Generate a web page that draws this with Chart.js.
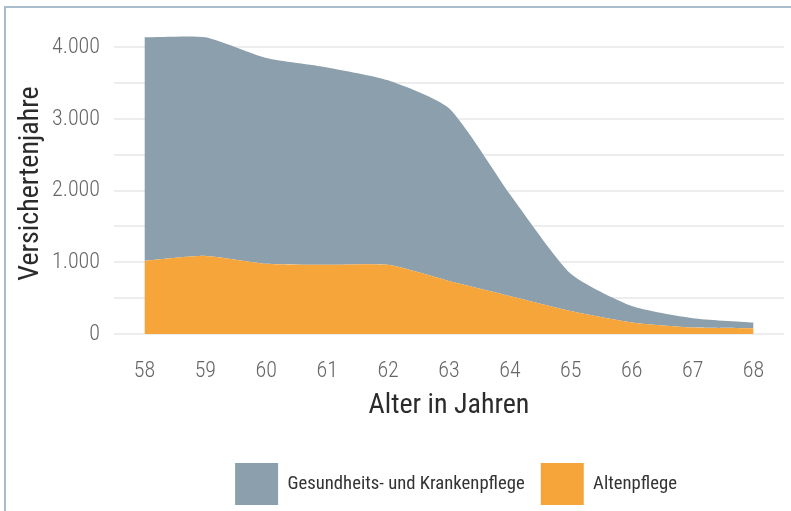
<!DOCTYPE html>
<html lang="de">
<head>
<meta charset="utf-8">
<title>Versichertenjahre nach Alter</title>
<script src="https://cdn.jsdelivr.net/npm/chart.js@4.4.1/dist/chart.umd.min.js"></script>
<style>
  html, body { margin: 0; padding: 0; background: #fff; }
  #rahmen { position: relative; width: 791px; height: 511px; overflow: hidden; }
  #linie { position: absolute; left: 4px; top: 6px; right: 0; bottom: 0;
           border-top: 2px solid #a9bccd; border-left: 2px solid #a9bccd; pointer-events: none; }
  canvas { position: absolute; left: 0; top: 0; }
</style>
</head>
<body>
<div id="rahmen">
  <canvas id="grafik" width="791" height="511"></canvas>
  <div id="linie"></div>
</div>
<script>
const alter = ["58", "59", "60", "61", "62", "63", "64", "65", "66", "67", "68"];
const altenpflege = [1020, 1090, 980, 965, 965, 740, 530, 320, 160, 90, 80];
const krankenpflege = [3120, 3050, 2870, 2755, 2575, 2410, 1420, 520, 230, 130, 80];
// Hilfslinien alle 500, beschriftet nur die vollen Tausender
const yLinien = [0, 500, 1000, 1500, 2000, 2500, 3000, 3500, 4000];
const yBeschriftet = [0, 1000, 2000, 3000, 4000];
const yLabels = ["0", "1.000", "2.000", "3.000", "4.000"];

const schrift = '"Roboto Condensed", "DejaVu Sans Condensed", sans-serif';

// Legende unter der Zeichenfläche zentrieren, nicht unter der ganzen Leinwand
const legendeVerschieben = {
    id: "legendeVerschieben",
    afterLayout(chart) {
        const lg = chart.legend;
        const dx = 456 - (lg.left + lg.right) / 2;
        lg.left += dx;
        lg.right += dx;
        const dy = 447 - lg.top;
        lg.top += dy;
        lg.bottom += dy;
    }
};

const ctx = document.getElementById("grafik").getContext("2d");
new Chart(ctx, {
    type: "line",
    data: {
        labels: alter,
        datasets: [
            {
                label: "Altenpflege",
                data: altenpflege,
                backgroundColor: "#f6a53b",
                borderColor: "#f6a53b",
                borderWidth: 0,
                fill: "origin",
                pointRadius: 0,
                tension: 0.2
            },
            {
                label: "Gesundheits- und Krankenpflege",
                data: krankenpflege,
                backgroundColor: "#8b9fad",
                borderColor: "#8b9fad",
                borderWidth: 0,
                fill: "-1",
                pointRadius: 0,
                tension: 0.2
            }
        ]
    },
    options: {
        responsive: false,
        animation: false,
        layout: { padding: { left: 10, right: 7, top: 33, bottom: 0 } },
        plugins: {
            tooltip: { enabled: false },
            legend: {
                position: "bottom",
                reverse: true,
                labels: {
                    boxWidth: 43,
                    boxHeight: 42,
                    padding: 16,
                    color: "#333",
                    font: { family: schrift, size: 18.7 }
                }
            }
        },
        scales: {
            x: {
                offset: true,
                afterFit: s => { s.height = 109; },
                grid: { display: false, drawTicks: false },
                border: { display: false },
                ticks: { color: "#666", padding: 24, font: { family: schrift, size: 22, weight: 300 } },
                title: {
                    display: true,
                    text: "Alter in Jahren",
                    color: "#2b2b2b",
                    padding: { top: 0, bottom: 20 },
                    font: { family: schrift, size: 28 }
                }
            },
            y: {
                stacked: true,
                min: 0,
                max: 4200,
                afterFit: s => { s.width = 104; },
                afterBuildTicks: s => { s.ticks = yLinien.map(v => ({ value: v })); },
                border: { display: false },
                grid: {
                    drawTicks: false,
                    lineWidth: 2,
                    color: "rgba(0,0,0,0.07)"
                },
                ticks: {
                    autoSkip: false,
                    padding: 14,
                    color: "#666",
                    font: { family: schrift, size: 22, weight: 300 },
                    callback: v => {
                        const i = yBeschriftet.indexOf(Number(v));
                        return i >= 0 ? yLabels[i] : "";
                    }
                },
                title: {
                    display: true,
                    text: "Versichertenjahre",
                    color: "#2b2b2b",
                    padding: { top: 4, bottom: 0 },
                    font: { family: schrift, size: 28 }
                }
            }
        }
    },
    plugins: [legendeVerschieben]
});
</script>
</body>
</html>
